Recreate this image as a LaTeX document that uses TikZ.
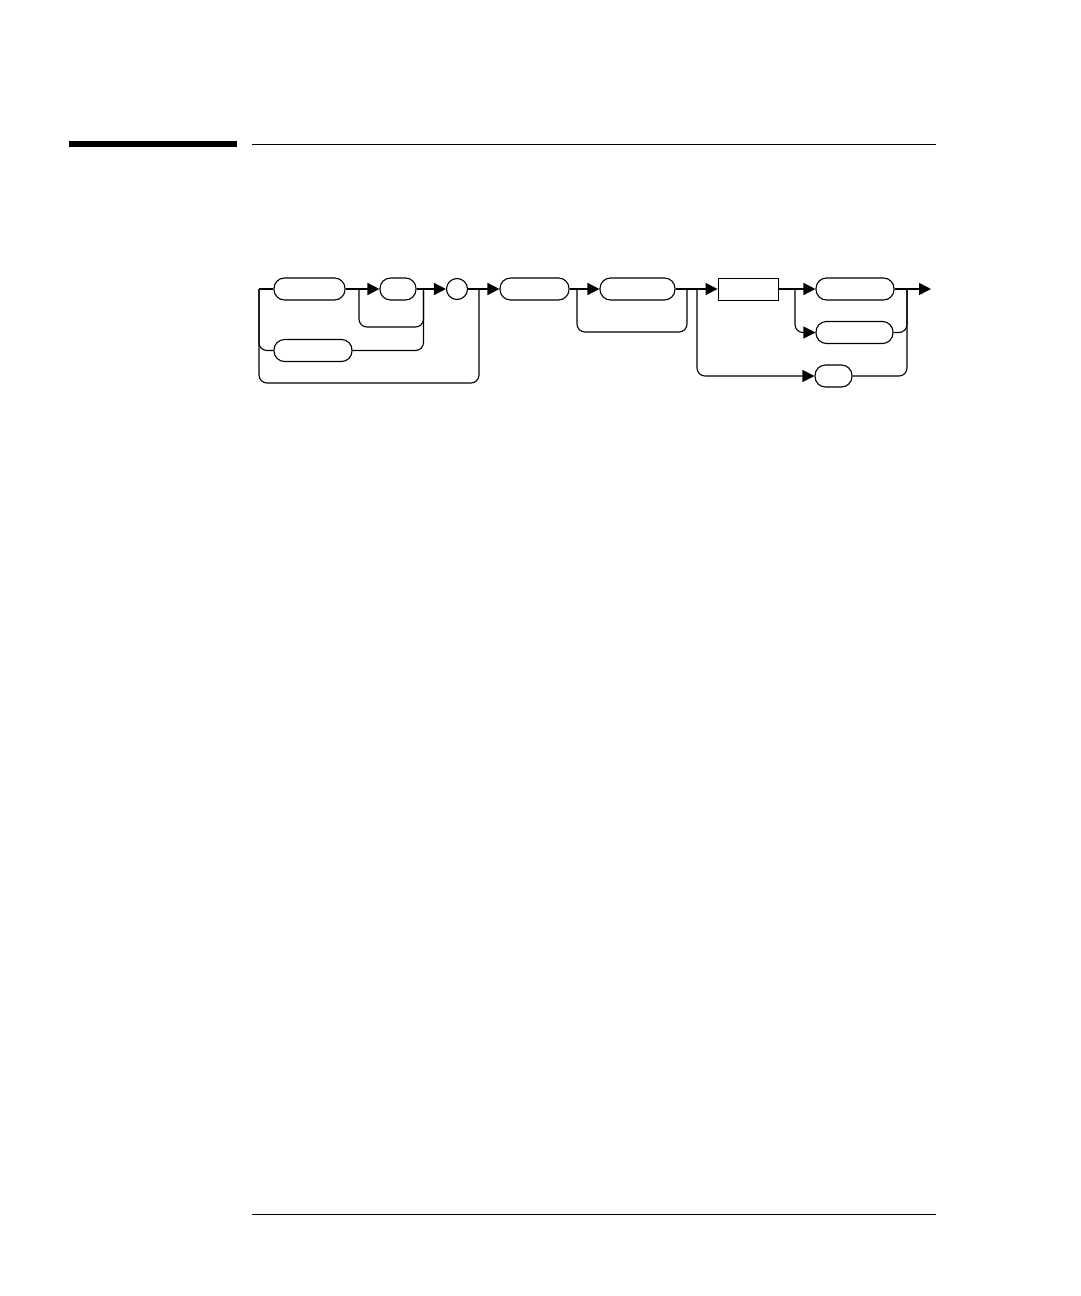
\documentclass[tikz,border=0pt]{standalone}
\usetikzlibrary{arrows.meta,calc}
\begin{document}
\begin{tikzpicture}[x=1pt,y=-1pt,
  term/.style={draw,line width=1.1pt,rounded corners=10.5pt,minimum height=22pt,inner sep=0pt},
  nterm/.style={draw,line width=0.9pt,rectangle,minimum height=22pt,inner sep=0pt},
  dot/.style={draw,line width=1.1pt,circle,minimum size=21pt,inner sep=0pt},
  flow/.style={line width=1.5pt},
  loop/.style={line width=1.1pt,rounded corners=8pt},
  tip/.style={-{Triangle[length=12pt,width=12pt]}}]
\useasboundingbox (0,0) rectangle (1080,1296);
% header and footer rules
\fill (69,141) rectangle (237,147);
\draw[line width=1.3pt] (252,144.3) -- (935.7,144.3);
\draw[line width=1.3pt] (252,1214.3) -- (935.7,1214.3);
% nodes
\node[term,minimum width=71pt] (b1) at (309.5,289) {};
\node[term,minimum width=36pt] (b2) at (398,289) {};
\node[term,minimum width=78pt] (b3) at (313,350.5) {};
\node[dot] (c) at (457,289) {};
\node[term,minimum width=69pt] (b4) at (534.5,289) {};
\node[term,minimum width=75pt] (b5) at (637.5,289) {};
\node[nterm,minimum width=60pt] (r) at (748,289) {};
\node[term,minimum width=78pt] (b6) at (855,289) {};
\node[term,minimum width=77pt] (b7) at (854.5,332.5) {};
\node[term,minimum width=37pt] (b8) at (833.5,376) {};
% junction coordinates
\coordinate (s) at (259,289);
\coordinate (jA) at (359,289);
\coordinate (kA) at (423.5,289);
\coordinate (yA) at (0,327);
\coordinate (jB) at (479,289);
\coordinate (yB) at (0,383);
\coordinate (jC) at (577,289);
\coordinate (kC) at (687,289);
\coordinate (yC) at (0,332);
\coordinate (jD) at (697,289);
\coordinate (jE) at (795,289);
\coordinate (kF) at (907,289);
\coordinate (e) at (931,289);
% main line
\draw[flow] (s) -- (b1.west);
\draw[flow,tip] (b1.east) -- (b2.west);
\draw[flow,tip] (b2.east) -- (c.west);
\draw[flow,tip] (c.east) -- (b4.west);
\draw[flow,tip] (b4.east) -- (b5.west);
\draw[flow,tip] (b5.east) -- (r.west);
\draw[flow,tip] (r.east) -- (b6.west);
\draw[flow,tip] (b6.east) -- (e);
% loops and branches
\draw[loop] (jA) -- (jA |- yA) -- (kA |- yA) -- (kA);
\draw[loop] (s) |- (b3.west);
\draw[loop] (b3.east) -| (kA);
\draw[loop] (s) -- (s |- yB) -| (jB);
\draw[loop] (jC) -- (jC |- yC) -- (kC |- yC) -- (kC);
\draw[loop,tip] (jD) |- (b8.west);
\draw[loop,tip] (jE) |- (b7.west);
\draw[loop] (b7.east) -| (kF);
\draw[loop] (b8.east) -| (kF);
\end{tikzpicture}
\end{document}
